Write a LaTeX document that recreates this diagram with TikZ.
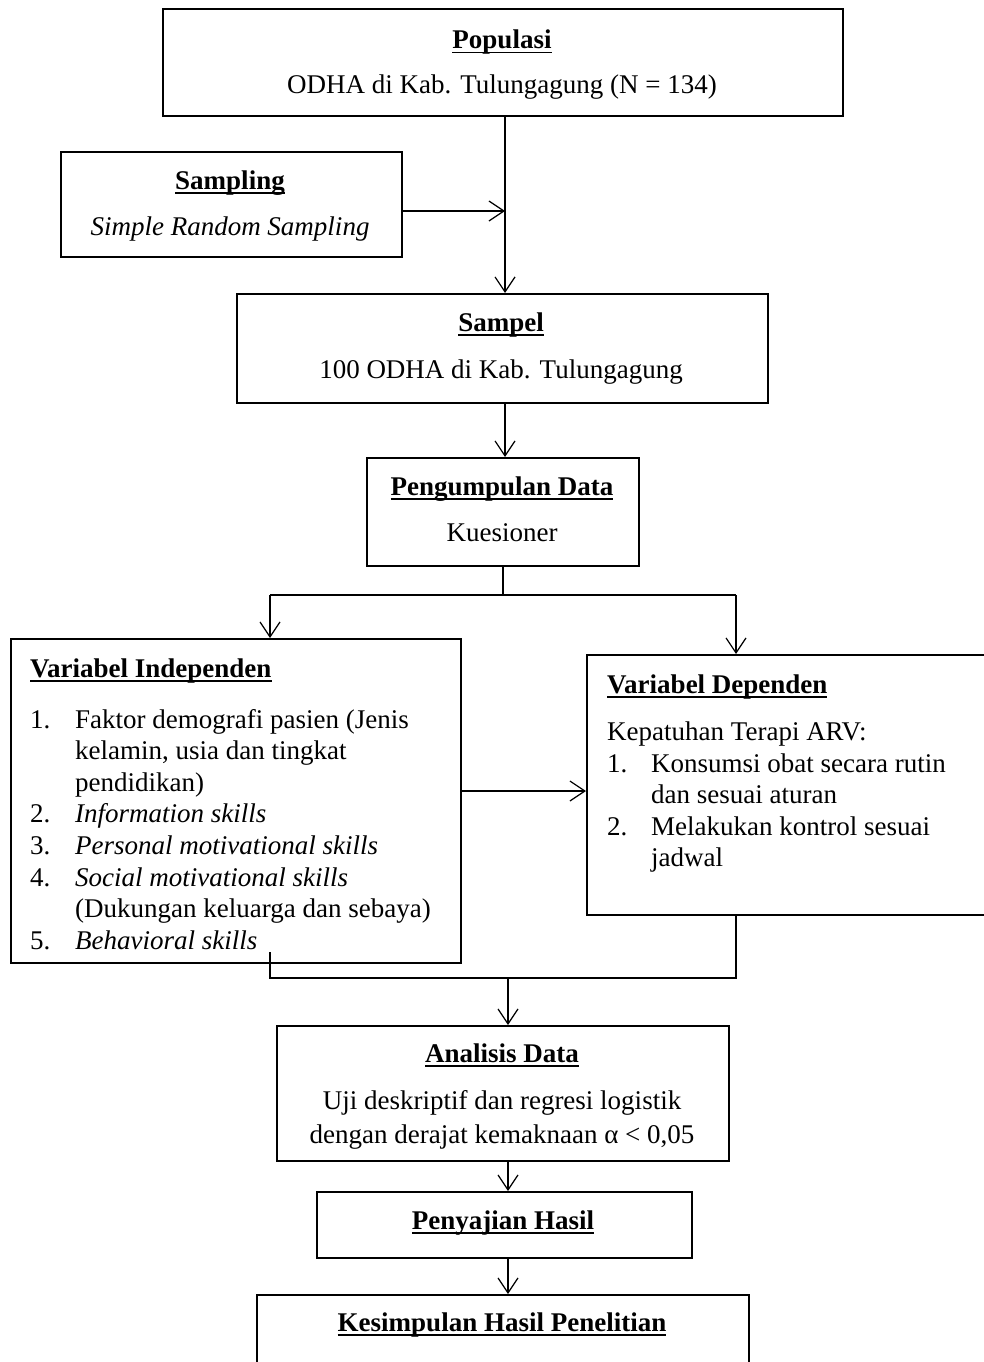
\documentclass[tikz,border=0pt]{standalone}
\usepackage{fontspec}
\setmainfont{Liberation Serif}
\usetikzlibrary{arrows.meta}
\newsavebox\ttlbox
\newcommand\ttl[1]{\sbox\ttlbox{\textbf{#1}}\rlap{\rule[-4.5pt]{\wd\ttlbox}{1.8pt}}\usebox\ttlbox}
\tikzset{
  box/.style={draw, line width=2.2pt, inner sep=0pt, anchor=north west},
  conn/.style={line width=1.2pt},
  arr/.style={conn, -{Straight Barb[length=15pt, width=20pt, line width=1.2pt]}},
  txt/.style={anchor=base, inner sep=0pt},
  lst/.style={anchor=base west, inner sep=0pt}
}
\begin{document}
\begin{tikzpicture}[x=1pt, y=-1pt, font=\fontsize{27}{31.6}\selectfont]
\useasboundingbox (0,0) rectangle (984,1362);
\clip (0,0) rectangle (984,1362);
% boxes
\node[box, minimum width=680pt, minimum height=107pt] (pop) at (162,8) {};
\node[box, minimum width=341pt, minimum height=105pt] (samp) at (60,151) {};
\node[box, minimum width=531pt, minimum height=109pt] (sampel) at (236,293) {};
\node[box, minimum width=272pt, minimum height=108pt] (peng) at (366,457) {};
\node[box, minimum width=450pt, minimum height=324pt] (indep) at (10,638) {};
\node[box, minimum width=420pt, minimum height=260pt] (dep) at (586,654) {};
\node[box, minimum width=452pt, minimum height=135pt] (anal) at (276,1025) {};
\node[box, minimum width=375pt, minimum height=66pt] (peny) at (316,1191) {};
\node[box, minimum width=492pt, minimum height=100pt] (kes) at (256,1294) {};
% texts
\node[txt] (popT) at (502,49) {\ttl{Populasi}};
\node[txt] (popB) at (502,94) {ODHA di Kab. Tulungagung (N = 134)};
\node[txt] (sampT) at (230,189) {\ttl{Sampling}};
\node[txt] (sampB) at (230,235) {\textit{Simple Random Sampling}};
\node[txt] (sampelT) at (501,331) {\ttl{Sampel}};
\node[txt] (sampelB) at (501,378) {100 ODHA di Kab. Tulungagung};
\node[txt] (pengT) at (502,495) {\ttl{Pengumpulan Data}};
\node[txt] (pengB) at (502,541) {Kuesioner};
\node[lst] (indepT) at (30,677) {\ttl{Variabel Independen}};
\node[lst] (indepL) at (30,728) {\begin{tabular}[t]{@{}p{45pt}@{}l@{}}
1. & Faktor demografi pasien (Jenis\\
   & kelamin, usia dan tingkat\\
   & pendidikan)\\
2. & \textit{Information skills}\\
3. & \textit{Personal motivational skills}\\
4. & \textit{Social motivational skills}\\
   & (Dukungan keluarga dan sebaya)\\
5. & \textit{Behavioral skills}
\end{tabular}};
\node[lst] (depT) at (607,693) {\ttl{Variabel Dependen}};
\node[lst] (depA) at (607,740) {Kepatuhan Terapi ARV:};
\node[lst] (depL) at (607,772) {\begin{tabular}[t]{@{}p{44pt}@{}l@{}}
1. & Konsumsi obat secara rutin\\
   & dan sesuai aturan\\
2. & Melakukan kontrol sesuai\\
   & jadwal
\end{tabular}};
\node[txt] (analT) at (502,1062) {\ttl{Analisis Data}};
\node[txt] (analB1) at (502,1109) {Uji deskriptif dan regresi logistik};
\node[txt] (analB2) at (502,1143) {dengan derajat kemaknaan α < 0,05};
\node[txt] (penyT) at (503,1229) {\ttl{Penyajian Hasil}};
\node[txt] (kesT) at (502,1331) {\ttl{Kesimpulan Hasil Penelitian}};
% connectors
\coordinate (cx) at (505,0);
\coordinate (sy) at (0,211);
\draw[arr] (pop.south -| cx) -- (sampel.north -| cx);
\draw[arr] (samp.east |- sy) -- (cx |- sy);
\draw[arr] (sampel.south -| cx) -- (peng.north -| cx);
\coordinate (sm) at (503,595);
\coordinate (sl) at (270,595);
\coordinate (sr) at (736,595);
\draw[conn] (sm |- peng.south) -- (sm);
\draw[conn] (sl) -- (sr);
\draw[arr] (sl) -- (sl |- indep.north);
\draw[arr] (sr) -- (sr |- dep.north);
\draw[arr] (indep.east |- 0,791) -- (dep.west |- 0,791);
\coordinate (bt) at (270,952);
\coordinate (ml) at (270,978);
\coordinate (mr) at (736,978);
\coordinate (mm) at (508,978);
\draw[conn] (bt) -- (ml) -- (mr) -- (mr |- dep.south);
\draw[arr] (mm) -- (mm |- anal.north);
\draw[arr] (mm |- anal.south) -- (mm |- peny.north);
\draw[arr] (mm |- peny.south) -- (mm |- kes.north);
\end{tikzpicture}
\end{document}
